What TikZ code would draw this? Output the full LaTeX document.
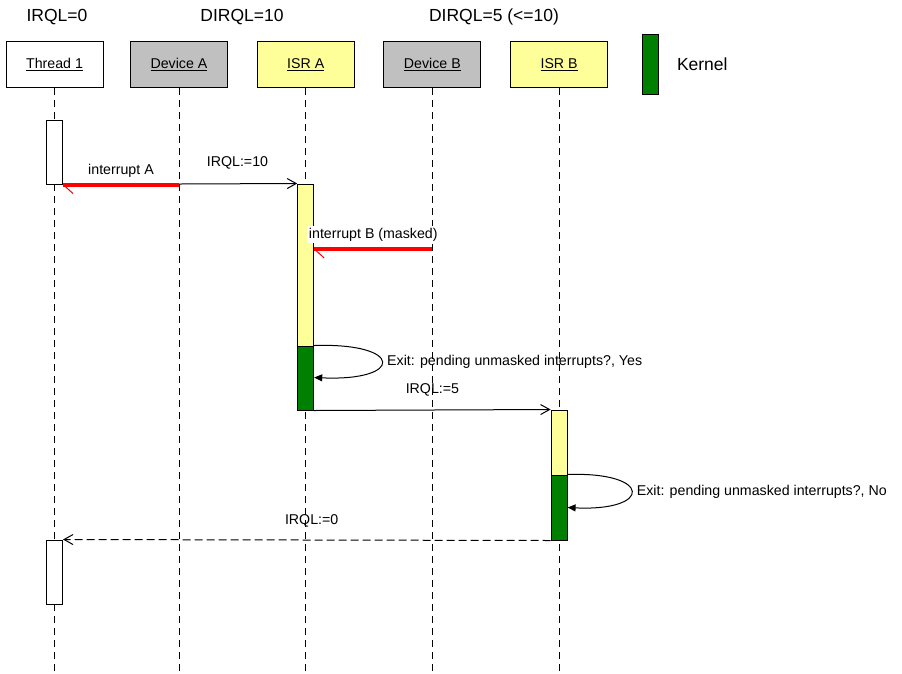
\documentclass[tikz,border=0pt]{standalone}
\usepackage{fontspec}
\setmainfont{Liberation Sans}
\usetikzlibrary{positioning}
\usetikzlibrary{arrows.meta}
\usepackage{xcolor}
\definecolor{isrYellow}{RGB}{255,255,153}
\definecolor{devGray}{RGB}{192,192,192}
\definecolor{kernelGreen}{RGB}{0,128,0}

\begin{document}
\begin{tikzpicture}
[x=1pt, y=-1pt, line width=1pt,
% The actor style is used to draw the boxes at the top
actor/.style={rectangle, draw, minimum width=97pt, minimum height=46pt, inner sep=0pt, font=\fontsize{14.2}{16}\selectfont},
% The level style is used for the IRQL written above the boxes
level/.style={inner sep=0pt, font=\fontsize{17.5}{20}\selectfont},
% The comment style is used to write the messages
comment/.style={inner sep=2pt, text=black, font=\fontsize{14.2}{16}\selectfont},
activation/.style={rectangle, draw, minimum width=16pt, inner sep=0pt},
life/.style={dash pattern=on 7pt off 5pt},
call/.style={-{Straight Barb[length=9pt,width=10pt]}},
irq/.style={red, line width=4pt},
selfcall/.style={-{Triangle[length=8pt,width=7pt]}}
]
\useasboundingbox (0,0) rectangle (902,673);
\coordinate (bottom) at (0,673);
% Draw levels
\node[level] (lvl0) at (57,17) {IRQL=0};
\node[level] (lvl10) at (242,17) {DIRQL=10};
\node[level] (lvl5) at (494,17) {DIRQL=5 (<=10)};
% Draw actors
\node[actor, fill=white] (thread) at (54.5,64.7) {\underline{Thread 1}};
\node[actor, fill=devGray, right=26.5pt of thread] (devA) {\underline{Device A}};
\node[actor, fill=isrYellow, right=28.7pt of devA] (isrA) {\underline{ISR A}};
\node[actor, fill=devGray, right=28.7pt of isrA] (devB) {\underline{Device B}};
\node[actor, fill=isrYellow, right=28.7pt of devB] (isrB) {\underline{ISR B}};
\node[activation, fill=kernelGreen, minimum height=60pt] (legend) at (650,64.3) {};
\node[level, right=18pt of legend] (legendtext) {Kernel};
% Draw lifelines
\foreach \who in {thread, devA, isrA, devB, isrB}
  \draw[life] (\who.south) -- (\who |- bottom);
% Draw activations
\node[activation, fill=white, minimum height=64pt] (t1a) at (thread |- 0,152) {};
\node[activation, fill=isrYellow, minimum height=162pt] (isrAy) at (isrA |- 0,265) {};
\node[activation, fill=kernelGreen, minimum height=64pt] (isrAk) at (isrA |- 0,378) {};
\node[activation, fill=isrYellow, minimum height=65pt] (isrBy) at (isrB |- 0,442.5) {};
\node[activation, fill=kernelGreen, minimum height=65pt] (isrBk) at (isrB |- 0,507.5) {};
\node[activation, fill=white, minimum height=64pt] (t1b) at (thread |- 0,572) {};
% Draw messages
\coordinate (devAin) at (devA |- t1a.south);
\coordinate (devBin) at (devB |- 0,249);
\draw[call] (t1a.south east) -- node[comment, pos=0.745, above=12pt]{IRQL:=10} (isrAy.north west);
\draw[irq] (devAin) -- node[comment, above=3pt]{interrupt A} (t1a.south east);
\draw[red] (t1a.south east) -- ++(10,9);
\draw[irq] (devBin) -- node[comment, fill=white, above=4pt]{interrupt B (masked)} (isrAy.east |- devBin);
\draw[red] (isrAy.east |- devBin) -- ++(10,9);
\draw[selfcall] (isrAk.north east) .. controls +(90,-3) and +(90,4) .. node[comment, right=3pt]{Exit: pending unmasked interrupts?, Yes} (isrAk.east |- 0,377.5);
\draw[call] (isrAk.south east) -- node[comment, above=11.5pt]{IRQL:=5} (isrBy.north west);
\draw[selfcall] (isrBk.north east) .. controls +(85,-3) and +(85,4) .. node[comment, right=3pt]{Exit: pending unmasked interrupts?, No} (isrBk.east |- 0,507.5);
\draw[call, dash pattern=on 8pt off 4pt] (isrBk.south west) -- node[comment, pos=0.49, above=10.5pt]{IRQL:=0} (t1b.north east);
\end{tikzpicture}
\end{document}
